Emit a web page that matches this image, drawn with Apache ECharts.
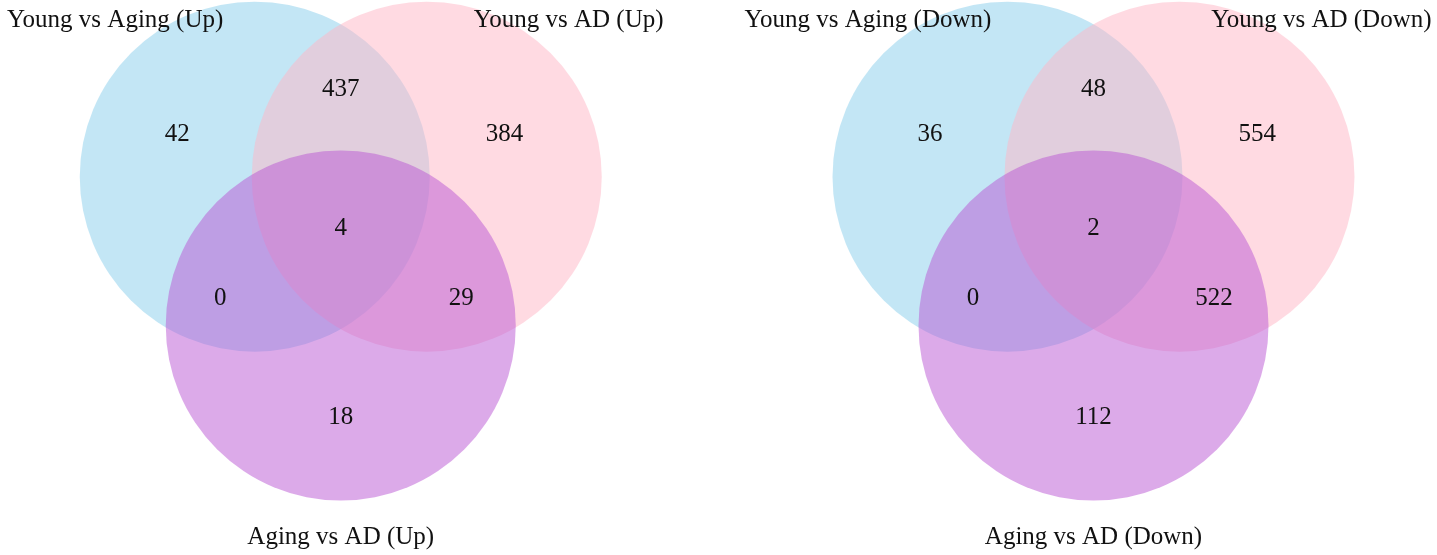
<!DOCTYPE html>
<html>
<head>
<meta charset="utf-8">
<script src="https://cdn.jsdelivr.net/npm/echarts@6/dist/echarts.min.js"></script>
<style>
  html, body { margin: 0; padding: 0; background: #ffffff; }
  #chart { width: 1437px; height: 555px; }
</style>
</head>
<body>
<div id="chart"></div>
<script>
// ---- Data ----
const setNamesUp = ['Young vs Aging (Up)', 'Young vs AD (Up)', 'Aging vs AD (Up)'];
const setNamesDown = ['Young vs Aging (Down)', 'Young vs AD (Down)', 'Aging vs AD (Down)'];
// region order: A only, A∩B, B only, A∩B∩C, A∩C, B∩C, C only
const regionNames = ['A only', 'A&B', 'B only', 'A&B&C', 'A&C', 'B&C', 'C only'];
const countsUp = [42, 437, 384, 4, 0, 29, 18];
const countsDown = [36, 48, 554, 2, 0, 522, 112];
const setColors = ['#87CEEB', '#FFB5C5', '#BA55D3'];

// ---- Layout of a 3-set Venn (unit radius) ----
const circleRadius = 1;
const circleCenters = [[-0.4914, -0.2837], [0.4914, -0.2837], [0, 0.5674]];
const regionPos = [[-0.935, -0.524], [0, -0.782], [0.935, -0.524], [0, 0.015], [-0.688, 0.41], [0.688, 0.41], [0, 1.091]];
const labelPos = [[-1.289, -1.176], [1.302, -1.176], [0, 1.778]];

const FONT = "'Liberation Serif', 'Times New Roman', serif";

function circleData() {
  return circleCenters.map((c, i) => [c[0], c[1], circleRadius, i]);
}
function countData(counts) {
  return regionPos.map((p, i) => [p[0], p[1], counts[i]]);
}
function labelData(names) {
  return labelPos.map((p, i) => [p[0], p[1], i]);
}

function circleSeries(gi) {
  return {
    type: 'custom', xAxisIndex: gi, yAxisIndex: gi, silent: true,
    data: circleData(),
    renderItem: function (params, api) {
      const c = api.coord([api.value(0), api.value(1)]);
      const s = api.size([api.value(2), api.value(2)]);
      return {
        type: 'circle',
        shape: { cx: c[0], cy: c[1], r: s[0] },
        style: { fill: setColors[api.value(3)], opacity: 0.5 }
      };
    }
  };
}
function textSeries(gi, data, textOf) {
  return {
    type: 'custom', xAxisIndex: gi, yAxisIndex: gi, silent: true,
    data: data,
    renderItem: function (params, api) {
      const c = api.coord([api.value(0), api.value(1)]);
      return {
        type: 'text',
        x: c[0], y: c[1],
        style: {
          text: textOf(params.dataIndex),
          align: 'center', verticalAlign: 'middle',
          fontSize: 25, fontFamily: FONT, fill: '#111111'
        }
      };
    }
  };
}

const axisX = (gi) => ({ type: 'value', gridIndex: gi, min: -1.9, max: 1.9, show: false });
const axisY = (gi) => ({ type: 'value', gridIndex: gi, min: -1.28, max: 1.88, inverse: true, show: false });

const chart = echarts.init(document.getElementById('chart'));
chart.setOption({
  animation: false,
  backgroundColor: '#ffffff',
  grid: [
    { left: 8.25, top: 2.5, width: 665, height: 553 },
    { left: 761, top: 2.5, width: 665, height: 553 }
  ],
  xAxis: [axisX(0), axisX(1)],
  yAxis: [axisY(0), axisY(1)],
  series: [
    circleSeries(0),
    circleSeries(1),
    textSeries(0, countData(countsUp), i => String(countsUp[i])),
    textSeries(1, countData(countsDown), i => String(countsDown[i])),
    textSeries(0, labelData(setNamesUp), i => setNamesUp[i]),
    textSeries(1, labelData(setNamesDown), i => setNamesDown[i])
  ]
});
</script>
</body>
</html>
